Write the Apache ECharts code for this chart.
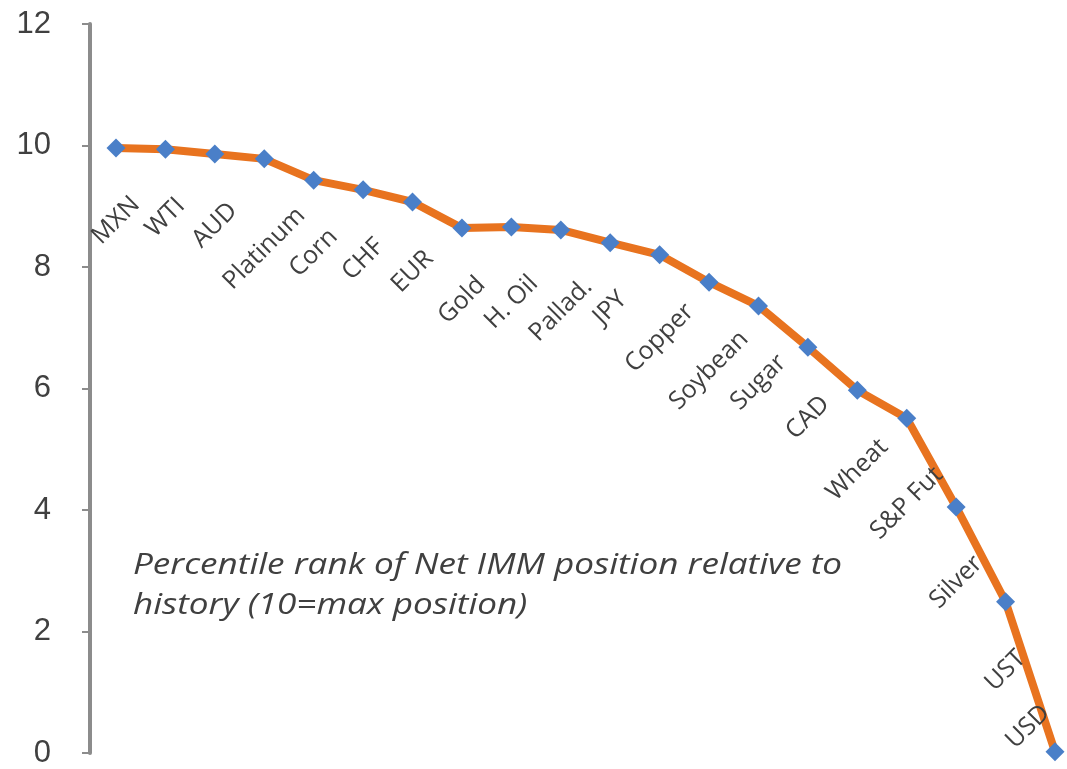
<!DOCTYPE html>
<html>
<head>
<meta charset="utf-8">
<script src="https://cdn.jsdelivr.net/npm/echarts@6/dist/echarts.min.js"></script>
<style>
html,body{margin:0;padding:0;background:#fff;}
#chart{width:1067px;height:769px;}
</style>
</head>
<body>
<div id="chart"></div>
<script>
const categories = ['MXN','WTI','AUD','Platinum','Corn','CHF','EUR','Gold','H. Oil','Pallad.','JPY','Copper','Soybean','Sugar','CAD','Wheat','S&P Fut','Silver','UST','USD'];
const values = [9.96,9.94,9.86,9.78,9.43,9.27,9.07,8.64,8.66,8.61,8.40,8.20,7.75,7.36,6.68,5.97,5.51,4.05,2.49,0.02];
const yTicks = [0,2,4,6,8,10,12];
const noteLines = ['Percentile rank of Net IMM position relative to','history (10=max position)'];

const LABEL_FONT = 'Open Sans';
const LABEL_SIZE = 25;
const GAP = 44;
const ctx = document.createElement('canvas').getContext('2d');
ctx.font = LABEL_SIZE + 'px "' + LABEL_FONT + '"';
const S = Math.SQRT1_2;

// Excel-style "below" label: rotated 45 deg, its box centred under the point.
// The shift is given in the label's rotated frame, so convert from screen.
function labelShift(idx) {
  let sx, sy;
  if (idx === categories.length - 1) {
    sx = -27; sy = -25;          // last label pushed up-left to stay inside the plot
  } else {
    const L = ctx.measureText(categories[idx]).width;
    sx = 0; sy = GAP + (L + LABEL_SIZE) * S / 2;
  }
  return {dx: (sx - sy) * S, dy: (sx + sy) * S};
}

const chart = echarts.init(document.getElementById('chart'));
chart.setOption({
  animation: false,
  backgroundColor: '#ffffff',
  grid: {left: 116, right: 12, top: 24, bottom: 16},
  xAxis: {
    type: 'category',
    data: categories,
    boundaryGap: false,
    axisLine: {show: false},
    axisTick: {show: false},
    axisLabel: {show: false},
    splitLine: {show: false}
  },
  yAxis: {
    type: 'value',
    min: yTicks[0],
    max: yTicks[yTicks.length - 1],
    interval: 2,
    offset: 26,
    axisLine: {show: true, lineStyle: {color: '#8c8c8c', width: 4}},
    axisTick: {show: true, length: 8, lineStyle: {color: '#8c8c8c', width: 2}},
    axisLabel: {
      margin: 39,
      fontFamily: 'Liberation Sans',
      fontSize: 31,
      color: '#404040'
    },
    splitLine: {show: false}
  },
  graphic: [{
    type: 'text',
    x: 133,
    y: 545,
    scaleX: 1.17,
    style: {
      text: noteLines.join('\n'),
      fontFamily: 'Open Sans',
      fontStyle: 'italic',
      fontSize: 30,
      lineHeight: 40,
      fill: '#404040'
    }
  }],
  series: [{
    type: 'line',
    data: values,
    symbol: 'diamond',
    symbolSize: 19,
    lineStyle: {color: '#E8731F', width: 8},
    itemStyle: {color: '#4A7FC8'},
    label: {
      show: true,
      formatter: function (p) { return p.name; },
      position: 'inside',
      rotate: 45,
      align: 'center',
      verticalAlign: 'middle',
      fontFamily: LABEL_FONT,
      fontSize: LABEL_SIZE,
      color: '#404040'
    },
    labelLayout: function (params) {
      const s = labelShift(params.dataIndex);
      return {dx: s.dx, dy: s.dy, hideOverlap: false};
    }
  }]
});
</script>
</body>
</html>
